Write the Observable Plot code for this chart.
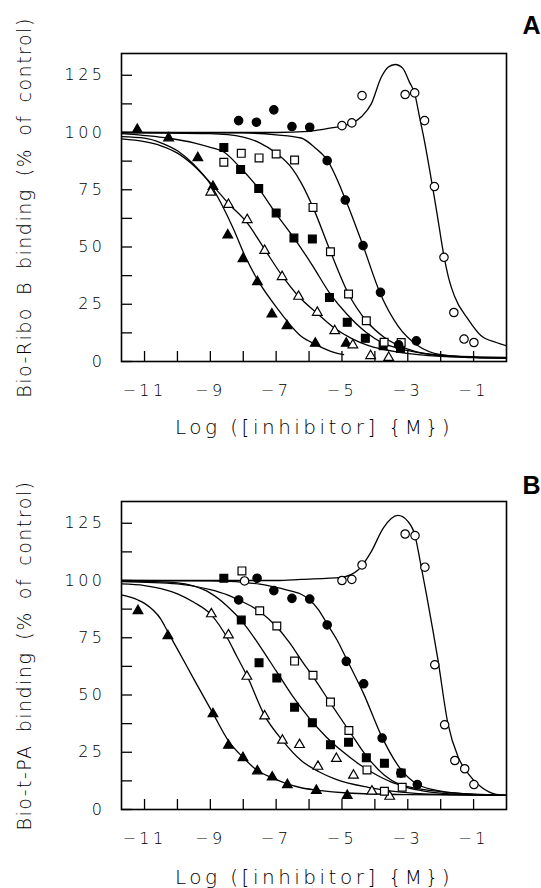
<!DOCTYPE html>
<html>
<head>
<meta charset="utf-8">
<script src="https://cdn.jsdelivr.net/npm/d3@7"></script>
<script src="https://cdn.jsdelivr.net/npm/@observablehq/plot@0.6"></script>
<style>
  body { margin: 0; background: #fff; }
  #chart { width: 541px; }
  #chart svg { display: block; }
  g[aria-label="y-axis tick label"] text, g[aria-label="x-axis tick label"] text { letter-spacing: 3.5px; }
</style>
</head>
<body>
<div id="chart"></div>
<script>
// ---- axes ----
const xTicks = [-11, -10, -9, -8, -7, -6, -5, -4, -3, -2, -1];
const xTickLabels = [-11, -9, -7, -5, -3, -1];
const yTicks = [0, 12.5, 25, 37.5, 50, 62.5, 75, 87.5, 100, 112.5, 125];
const yTickLabels = [0, 25, 50, 75, 100, 125];
const xDomain = [-11.7, 0];
const yDomain = [0, 134.5];
const xTitle = "Log ([inhibitor] {M})";
const yTitleA = "Bio-Ribo B binding (% of control)";
const yTitleB = "Bio-t-PA binding (% of control)";

// ---- Panel A: data points ----
const aTriFilledX = [-11.22, -10.27, -9.38, -8.92, -8.47, -8.01, -7.57, -7.13, -6.67, -5.81, -4.87];
const aTriFilledY = [101.3, 97.6, 88.9, 76.4, 55.2, 44.8, 34.8, 20.7, 15.6, 7.9, 7.9];
const aTriOpenX = [-8.99, -8.45, -7.88, -7.35, -6.82, -6.32, -5.75, -5.22, -4.67, -4.13, -3.58];
const aTriOpenY = [73.9, 68.5, 61.9, 48.4, 37.0, 28.4, 21.4, 13.4, 7.2, 2.5, 1.7];
const aSqFilledX = [-8.59, -8.08, -7.53, -7.00, -6.46, -5.90, -5.38, -4.84, -4.29, -3.75, -3.22];
const aSqFilledY = [93.5, 83.8, 75.6, 64.9, 53.9, 53.5, 28.0, 17.1, 10.1, 6.9, 5.7];
const aSqOpenX = [-8.59, -8.06, -7.52, -7.00, -6.44, -5.88, -5.35, -4.80, -4.26, -3.72, -3.20];
const aSqOpenY = [87.0, 90.9, 88.9, 90.6, 88.0, 67.3, 47.9, 29.5, 17.8, 8.4, 8.3];
const aCircFilledX = [-8.14, -7.60, -7.07, -6.52, -5.98, -5.45, -4.90, -4.36, -3.83, -3.28, -2.74];
const aCircFilledY = [105.2, 104.5, 109.9, 102.6, 102.3, 87.7, 70.5, 50.6, 30.2, 7.3, 9.0];
const aCircOpenX = [-5.00, -4.70, -4.39, -3.08, -2.79, -2.49, -2.19, -1.90, -1.60, -1.29, -0.99];
const aCircOpenY = [103.0, 104.2, 116.1, 116.6, 117.3, 105.2, 76.4, 45.5, 21.4, 9.8, 8.3];

// ---- Panel A: fitted curves ----
const aTriFilledCurveX = [-11.7, -11, -10.5, -10, -9.5, -9, -8.67, -8.3, -7.96, -7.55, -6.95, -6.24, -5.81, -5.22, -4.95];
const aTriFilledCurveY = [98.2, 97.5, 95.5, 92, 86, 77.5, 69, 58, 46.5, 35.3, 22.9, 11, 7.5, 3.9, 3.0];
const aTriOpenCurveX = [-11.7, -11, -10.5, -10, -9.5, -9, -8.45, -7.88, -7.35, -6.82, -6.32, -5.75, -5.22, -4.7, -4.21, -3.2, -2, -1, 0];
const aTriOpenCurveY = [97.2, 96, 94.2, 91, 85.5, 78, 69, 60.5, 49, 37.5, 28.5, 21, 14.5, 10, 7, 3.9, 2.2, 1.7, 1.5];
const aSqFilledCurveX = [-11.7, -10.27, -9.5, -9, -8.59, -8.08, -7.53, -7.0, -6.46, -5.9, -5.38, -4.84, -4.29, -3.75, -3.22, -2.5, -1.5, 0];
const aSqFilledCurveY = [99.5, 97.5, 95.5, 93.5, 91.5, 84.5, 75.5, 64.5, 54, 42, 30, 20.5, 13, 8, 5.5, 3.5, 2.3, 1.8];
const aSqOpenCurveX = [-11.7, -9, -8, -7.5, -7, -6.5, -6.24, -5.88, -5.35, -4.8, -4.26, -3.71, -3.0, -2, -1, 0];
const aSqOpenCurveY = [100, 99.5, 98, 95.5, 91, 84, 78, 67.3, 48, 29.5, 17.8, 10.5, 5.4, 2.5, 1.8, 1.5];
const aCircFilledCurveX = [-11.7, -8, -7, -6.24, -5.83, -5.45, -4.9, -4.36, -3.83, -3.3, -2.7, -2, -1, 0];
const aCircFilledCurveY = [100, 99.8, 99, 97.6, 93.5, 88, 71, 50.6, 29.5, 15.6, 7, 3, 1.8, 1.5];
const aCircOpenCurveX = [-11.7, -7, -6, -5.33, -4.72, -4.4, -4.11, -3.81, -3.6, -3.38, -3.15, -2.95, -2.79, -2.64, -2.49, -2.34, -2.19, -2.06, -1.9, -1.75, -1.58, -1.17, -0.77, -0.31, 0];
const aCircOpenCurveY = [100, 100, 100.5, 102, 104, 107, 112.5, 124, 128.5, 129.7, 128, 122, 117, 106.6, 96, 84, 71.5, 60, 46, 36, 28.5, 18.5, 11.2, 8.3, 6.9];

// ---- Panel B: data points ----
const bTriFilledX = [-11.20, -10.29, -8.92, -8.45, -8.01, -7.57, -7.12, -6.66, -5.78, -4.84];
const bTriFilledY = [86.8, 75.8, 41.8, 28.0, 22.6, 16.8, 14.1, 10.8, 8.3, 6.1];
const bTriOpenX = [-8.97, -8.45, -7.89, -7.35, -6.81, -6.29, -5.73, -5.17, -4.65, -4.09, -3.55];
const bTriOpenY = [85.4, 76.2, 58.1, 40.8, 30.2, 28.3, 18.8, 22.2, 14.9, 8.0, 5.7];
const bSqFilledX = [-8.59, -8.06, -7.52, -6.98, -6.44, -5.90, -5.35, -4.80, -4.26, -3.71, -3.20];
const bSqFilledY = [101.0, 82.7, 64.1, 57.4, 44.7, 37.9, 28.3, 29.4, 22.6, 20.2, 15.9];
const bSqOpenX = [-8.04, -7.50, -6.98, -6.44, -5.88, -5.35, -4.79, -4.24, -3.71, -3.17];
const bSqOpenY = [104.2, 86.8, 80.1, 64.8, 58.6, 46.9, 34.5, 17.3, 8.0, 9.7];
const bCircFilledX = [-8.14, -7.58, -7.07, -6.52, -5.98, -5.45, -4.87, -4.34, -3.78, -3.21, -2.71];
const bCircFilledY = [91.5, 101.0, 95.6, 92.2, 91.9, 80.6, 64.7, 54.9, 31.2, 15.9, 10.9];
const bCircOpenX = [-7.96, -5.00, -4.70, -4.39, -3.08, -2.78, -2.48, -2.18, -1.88, -1.57, -1.27, -0.99];
const bCircOpenY = [99.8, 100.0, 100.5, 106.8, 120.3, 119.6, 105.8, 63.2, 37.0, 21.4, 17.8, 10.9];

// ---- Panel B: fitted curves ----
const bTriFilledCurveX = [-11.7, -11.2, -11, -10.5, -10.29, -9.98, -9.48, -8.92, -8.45, -8.01, -7.57, -7.12, -6.66, -6.24, -5.78, -4.84, -3, 0];
const bTriFilledCurveY = [93.7, 91.5, 90, 83, 77.5, 69.5, 56.4, 42, 30, 22.8, 17, 13.8, 11.2, 9.5, 8.5, 7.2, 6.5, 6.2];
const bTriOpenCurveX = [-11.7, -11, -10.5, -10, -9.5, -8.97, -8.45, -8.2, -7.89, -7.35, -6.81, -6.24, -5.7, -5.22, -4.21, -3.2, -2, 0];
const bTriOpenCurveY = [98.5, 97.8, 96.5, 94.2, 90.5, 85, 74, 67, 58.5, 41, 30.2, 21.4, 16.5, 13.4, 9.7, 7.6, 6.6, 6.2];
const bSqFilledCurveX = [-11.7, -10, -9.5, -9, -8.5, -8, -7.5, -7, -6.5, -6, -5.5, -5, -4.5, -4, -3.5, -3, -2, -1, 0];
const bSqFilledCurveY = [99.8, 99, 97.5, 94.5, 89, 81.5, 71.5, 60.5, 49.5, 40, 32, 25.5, 20, 15.5, 12, 10, 7.8, 6.7, 6.2];
const bSqOpenCurveX = [-11.7, -10, -9, -8.5, -8.14, -7.5, -7, -6.6, -6.2, -5.88, -5.35, -4.79, -4.24, -3.71, -3.2, -2.5, -1.5, 0];
const bSqOpenCurveY = [99.5, 98.5, 96, 93.8, 91.5, 86.5, 80, 73, 64.5, 58, 46.5, 34.5, 23, 15, 10.5, 8, 6.7, 6.2];
const bCircFilledCurveX = [-11.7, -9, -8, -7.5, -7, -6.5, -6.24, -5.98, -5.7, -5.45, -5.15, -4.87, -4.34, -3.78, -3.21, -2.71, -2, -1, 0];
const bCircFilledCurveY = [100, 99.8, 99.2, 98.4, 97, 95.2, 94, 91.5, 87, 81, 74, 66, 50.5, 31.5, 17.5, 11, 8, 6.6, 6.2];
const bCircOpenCurveX = [-11.7, -7, -6.24, -5.02, -4.51, -4.11, -3.75, -3.3, -2.99, -2.78, -2.64, -2.43, -2.23, -2.09, -1.78, -1.47, -1.16, -0.76, -0.31, 0];
const bCircOpenCurveY = [100, 100, 100.5, 101.4, 104.6, 112.6, 122.8, 128.4, 125.7, 119.6, 109.7, 93.7, 77.7, 66, 37.5, 22.9, 15.6, 9.7, 6.6, 6.2];

// ---- marker styles ----
const markerStyle = {
  triFilled: {symbol: "triangle", fill: "black", r: 3.6},
  triOpen: {symbol: "triangle", fill: "white", r: 3.6},
  sqFilled: {symbol: "square", fill: "black", r: 4.4},
  sqOpen: {symbol: "square", fill: "white", r: 4.4},
  circFilled: {symbol: "circle", fill: "black", r: 4.2},
  circOpen: {symbol: "circle", fill: "white", r: 4.2}
};

const seriesA = [
  {key: "triFilled", px: aTriFilledX, py: aTriFilledY, cx: aTriFilledCurveX, cy: aTriFilledCurveY},
  {key: "triOpen", px: aTriOpenX, py: aTriOpenY, cx: aTriOpenCurveX, cy: aTriOpenCurveY},
  {key: "sqFilled", px: aSqFilledX, py: aSqFilledY, cx: aSqFilledCurveX, cy: aSqFilledCurveY},
  {key: "sqOpen", px: aSqOpenX, py: aSqOpenY, cx: aSqOpenCurveX, cy: aSqOpenCurveY},
  {key: "circFilled", px: aCircFilledX, py: aCircFilledY, cx: aCircFilledCurveX, cy: aCircFilledCurveY},
  {key: "circOpen", px: aCircOpenX, py: aCircOpenY, cx: aCircOpenCurveX, cy: aCircOpenCurveY}
];
const seriesB = [
  {key: "triFilled", px: bTriFilledX, py: bTriFilledY, cx: bTriFilledCurveX, cy: bTriFilledCurveY},
  {key: "triOpen", px: bTriOpenX, py: bTriOpenY, cx: bTriOpenCurveX, cy: bTriOpenCurveY},
  {key: "sqFilled", px: bSqFilledX, py: bSqFilledY, cx: bSqFilledCurveX, cy: bSqFilledCurveY},
  {key: "sqOpen", px: bSqOpenX, py: bSqOpenY, cx: bSqOpenCurveX, cy: bSqOpenCurveY},
  {key: "circFilled", px: bCircFilledX, py: bCircFilledY, cx: bCircFilledCurveX, cy: bCircFilledCurveY},
  {key: "circOpen", px: bCircOpenX, py: bCircOpenY, cx: bCircOpenCurveX, cy: bCircOpenCurveY}
];

const fontFamily = "'DejaVu Sans', 'Liberation Sans', sans-serif";

function makePanel({series, yTitle, letter, height, marginTop, marginBottom, letterDy, xTitleDy}) {
  const curves = [];
  for (const s of series) s.cx.forEach((x, i) => curves.push({series: s.key, x, y: s.cy[i]}));
  const dotMarks = series.map(s => {
    const st = markerStyle[s.key];
    const pts = s.px.map((x, i) => ({x, y: s.py[i]}));
    return Plot.dot(pts, {x: "x", y: "y", symbol: () => st.symbol, r: st.r, fill: st.fill, stroke: "black", strokeWidth: 1.2});
  });
  const svg = Plot.plot({
    width: 541,
    height,
    marginLeft: 121,
    marginRight: 35,
    marginTop,
    marginBottom,
    style: {fontFamily, fontWeight: 300, background: "white", color: "black"},
    x: {domain: xDomain},
    y: {domain: yDomain},
    symbol: {type: "identity"},
    marks: [
      Plot.axisX({ticks: xTicks, tickSize: -10, tickFormat: () => "", strokeWidth: 1.3, label: null}),
      Plot.axisY({ticks: yTicks, tickSize: -11, tickFormat: () => "", strokeWidth: 1.3, label: null}),
      Plot.axisX({ticks: xTickLabels, tickSize: 0, tickPadding: 23, fontSize: 16, tickFormat: d => "\u2212" + Math.abs(d), label: null}),
      Plot.axisY({ticks: yTickLabels, tickSize: 0, tickPadding: 16, fontSize: 16, tickFormat: d => String(d), label: null}),
      Plot.line(curves, {x: "x", y: "y", z: "series", curve: "monotone-x", stroke: "black", strokeWidth: 1.3, clip: true}),
      ...dotMarks,
      Plot.frame({stroke: "black", strokeWidth: 1.6}),
      Plot.text([yTitle], {text: d => d, frameAnchor: "left", rotate: -90, dx: -97, fontSize: 19, textAnchor: "middle", lineAnchor: "middle"}),
      Plot.text([xTitle], {text: d => d, frameAnchor: "bottom", dy: xTitleDy, fontSize: 20, textAnchor: "middle", lineAnchor: "middle"}),
      Plot.text([letter], {text: d => d, frameAnchor: "top-right", dx: 25, dy: letterDy, fontSize: 25, fontWeight: "bold", fontFamily: "'Liberation Sans', sans-serif", textAnchor: "middle", lineAnchor: "middle"})
    ]
  });
  const root = d3.select(svg);
  root.selectAll("text").filter(function() { return this.textContent === yTitle; })
    .style("letter-spacing", "1.5px").style("word-spacing", "4.5px");
  root.selectAll("text").filter(function() { return this.textContent === xTitle; })
    .style("letter-spacing", "3.5px");
  return svg;
}

const chart = document.getElementById("chart");
chart.append(makePanel({series: seriesA, yTitle: yTitleA, letter: "A", height: 448, marginTop: 53, marginBottom: 87, letterDy: -28, xTitleDy: 66}));
chart.append(makePanel({series: seriesB, yTitle: yTitleB, letter: "B", height: 440, marginTop: 53, marginBottom: 79, letterDy: -16, xTitleDy: 68}));
</script>
</body>
</html>
